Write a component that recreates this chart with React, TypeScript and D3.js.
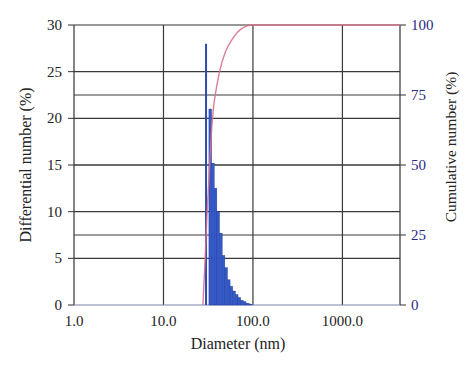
import React from 'react';
import * as d3 from 'd3';

const xTicks = [1, 10, 100, 1000];
const xTickLabels = ['1.0', '10.0', '100.0', '1000.0'];
const leftTicks = [0, 5, 10, 15, 20, 25, 30];
const rightTicks = [0, 25, 50, 75, 100];

// histogram bins (nm edges) and differential number (%)
const binEdges = [32.2, 34.5, 36.9, 39.5, 42.3, 45.3, 48.5, 51.9, 55.5, 59.4, 63.6, 68.1, 72.9, 78.0, 83.5, 89.3, 94.5, 99.0];
const binValues = [21, 15.2, 12.5, 10, 7.7, 5.3, 4.0, 2.7, 2.0, 1.5, 1.1, 0.8, 0.5, 0.35, 0.2, 0.12, 0.05];

// single narrow spike
const spikeDiameter = 29.9;
const spikeValue = 28;

// cumulative number (%)
const cumDiameter = [27.6, 29.1, 30.6, 32.2, 33.9, 36.0, 39.3, 42.8, 48.7, 57.8, 68.0, 81.5, 96.7, 4400];
const cumValue = [0, 15.4, 32, 44.6, 59, 69.6, 78, 84, 90, 94.6, 97.6, 99.4, 100, 100];

const W = 474, H = 368;
const L = 74, R = 400, T = 25, B = 305;
const FONT = '"Liberation Serif", "DejaVu Serif", serif';

export default function App() {
  const x = d3.scaleLog().domain([1, 4400]).range([L, R]);
  const yL = d3.scaleLinear().domain([0, 30]).range([B, T]);
  const yR = d3.scaleLinear().domain([0, 100]).range([B, T]);
  const cumLine = d3.line<number>()
    .x((_, i) => x(cumDiameter[i]))
    .y((d) => yR(d))
    .curve(d3.curveMonotoneX)(cumValue) || '';
  const gridColor = '#3a3a3a';
  return (
    <svg width={W} height={H} style={{ position: 'absolute', left: 0, top: 0, background: '#fff' }}>
      {leftTicks.filter(t => t > 0 && t < 30).map(t => (
        <line key={'gl' + t} x1={L} x2={R} y1={yL(t)} y2={yL(t)} stroke={gridColor} strokeWidth={1.2} />
      ))}
      {rightTicks.filter(t => t > 0 && t < 100).map(t => (
        <line key={'gr' + t} x1={L} x2={R} y1={yR(t)} y2={yR(t)} stroke={gridColor} strokeWidth={1.2} />
      ))}
      {xTicks.filter(t => t > 1).map(t => (
        <line key={'gx' + t} x1={x(t)} x2={x(t)} y1={T} y2={B} stroke={gridColor} strokeWidth={1.2} />
      ))}
      <line x1={L} x2={R} y1={T} y2={T} stroke="#333" strokeWidth={1.2} />
      <line x1={L} x2={L} y1={T} y2={B} stroke="#333" strokeWidth={1.2} />
      <line x1={R} x2={R} y1={T} y2={B} stroke="#333" strokeWidth={1.2} />
      <line x1={L} x2={R} y1={B} y2={B} stroke="#7a86a8" strokeWidth={1.2} />
      {binValues.map((v, i) => (
        <rect key={'b' + i} x={x(binEdges[i])} width={x(binEdges[i + 1]) - x(binEdges[i])}
          y={yL(v)} height={B - yL(v)} fill="#3459c9" stroke="#1f3a9a" strokeWidth={0.4} />
      ))}
      <line x1={x(spikeDiameter)} x2={x(spikeDiameter)} y1={yL(spikeValue)} y2={B} stroke="#2b4bb0" strokeWidth={2} />
      <path d={cumLine} fill="none" stroke="#d8708a" strokeWidth={1.4} opacity={0.9} />
      {leftTicks.map(t => (
        <g key={'lt' + t}>
          <line x1={L - 6} x2={L} y1={yL(t)} y2={yL(t)} stroke="#333" strokeWidth={1} />
          <text x={62} y={yL(t) + 5} textAnchor="end" fontFamily={FONT} fontSize={15} fill="#222">{t}</text>
        </g>
      ))}
      {rightTicks.map(t => (
        <g key={'rt' + t}>
          <line x1={R} x2={R + 6} y1={yR(t)} y2={yR(t)} stroke="#333" strokeWidth={1} />
          <text x={411} y={yR(t) + 5} textAnchor="start" fontFamily={FONT} fontSize={15} fill="#2a2a86">{t}</text>
        </g>
      ))}
      {xTicks.map((t, i) => (
        <text key={'xt' + t} x={x(t)} y={326} textAnchor="middle" fontFamily={FONT} fontSize={15} fill="#222">{xTickLabels[i]}</text>
      ))}
      <text x={238} y={349} textAnchor="middle" fontFamily={FONT} fontSize={16} fill="#222">Diameter (nm)</text>
      <text transform={`translate(31,${(T + B) / 2}) rotate(-90)`} textAnchor="middle" fontFamily={FONT} fontSize={16} fill="#222">Differential number (%)</text>
      <text transform={`translate(456,${(T + B) / 2 - 18}) rotate(-90)`} textAnchor="middle" fontFamily={FONT} fontSize={15.5} fill="#222">Cumulative number (%)</text>
    </svg>
  );
}
